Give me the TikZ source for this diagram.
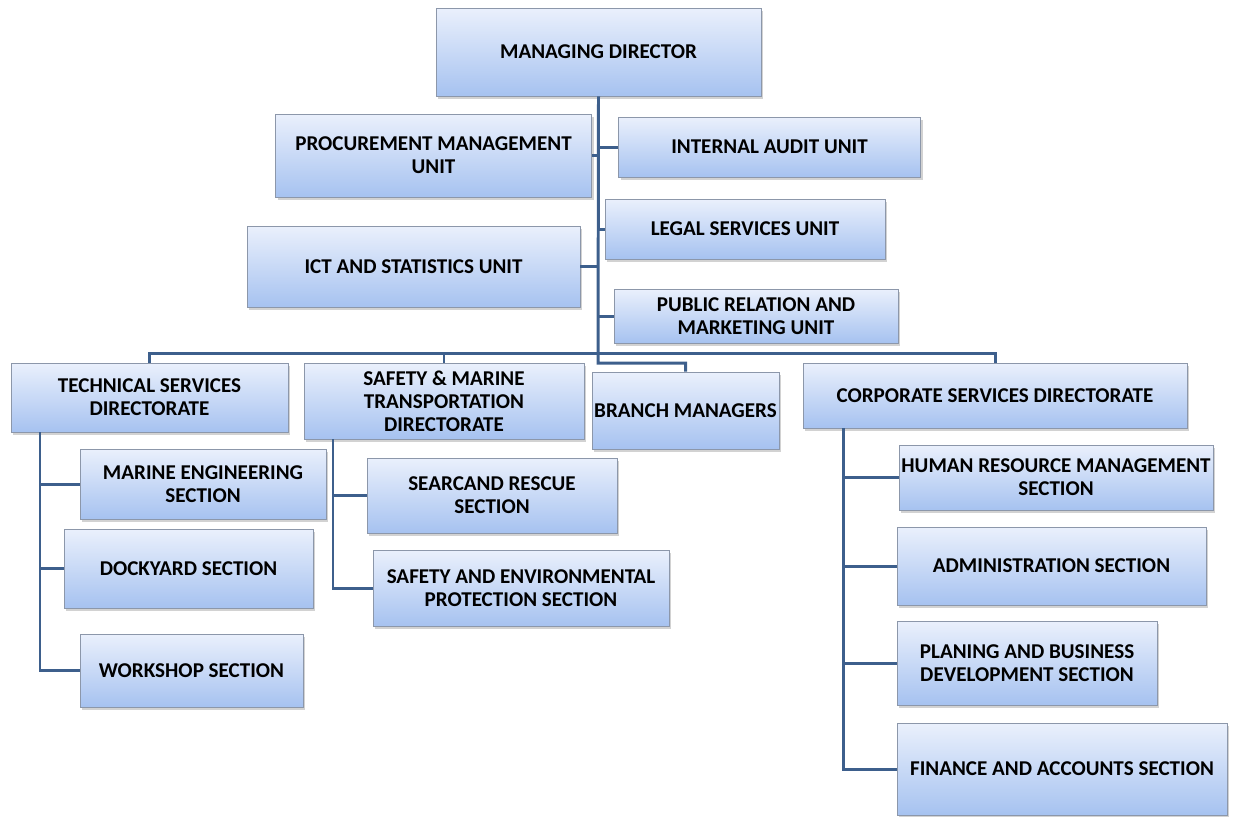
\documentclass[tikz,border=0pt]{standalone}
\usepackage{fontspec}
\setmainfont{Carlito}
\usetikzlibrary{shadows}
\definecolor{boxtop}{HTML}{EAF0FC}
\definecolor{boxbot}{HTML}{A6C2F0}
\definecolor{boxline}{HTML}{8C97AA}
\definecolor{linkblue}{HTML}{3D5F8C}
\tikzset{
    org/.style 2 args={rectangle, draw=boxline, line width=0.5pt, top color=boxtop, bottom color=boxbot,
        drop shadow={shadow xshift=1.2pt, shadow yshift=-1.5pt, fill=black!35},
        minimum width=#1*0.02cm, minimum height=#2*0.02cm, inner sep=1pt, align=center,
        font=\fontsize{12}{13.2}\selectfont\bfseries},
    link/.style={draw=linkblue, line width=1.7pt}
}
\begin{document}
\begin{tikzpicture}[x=0.02cm, y=-0.02cm]
    \useasboundingbox (0,0) rectangle (1237,816);

    % top level and units
    \node[org={325}{88}] (md) at (598.5,52) {MANAGING DIRECTOR};
    \node[org={316}{83}] (proc) at (433.5,155.5) {PROCUREMENT MANAGEMENT\\UNIT};
    \node[org={302}{60}] (audit) at (769.5,147) {INTERNAL AUDIT UNIT};
    \node[org={280}{60}] (legal) at (745,229) {LEGAL SERVICES UNIT};
    \node[org={333}{81}] (ict) at (413.5,266.5) {ICT AND STATISTICS UNIT};
    \node[org={284}{54}] (pr) at (756,316) {PUBLIC RELATION AND\\MARKETING UNIT};

    % directorates
    \node[org={277}{69}] (tech) at (149.5,397.5) {TECHNICAL SERVICES\\DIRECTORATE};
    \node[org={280}{76}] (smt) at (444,401) {SAFETY \& MARINE\\TRANSPORTATION\\DIRECTORATE};
    \node[org={187}{77}] (branch) at (685.5,410.5) {BRANCH MANAGERS};
    \node[org={384}{65}] (corp) at (995,395.5) {CORPORATE SERVICES DIRECTORATE};

    % sections
    \node[org={246}{70}] (meng) at (203,484) {MARINE ENGINEERING\\SECTION};
    \node[org={249}{79}] (dock) at (188.5,568.5) {DOCKYARD SECTION};
    \node[org={223}{73}] (work) at (191.5,670.5) {WORKSHOP SECTION};
    \node[org={250}{75}] (sar) at (492,495.5) {SEARCAND RESCUE\\SECTION};
    \node[org={296}{76}] (sep) at (521,588) {SAFETY AND ENVIRONMENTAL\\PROTECTION SECTION};
    \node[org={314}{65}] (hrm) at (1056,477.5) {HUMAN RESOURCE MANAGEMENT\\SECTION};
    \node[org={309}{78}] (admin) at (1051.5,566) {ADMINISTRATION SECTION};
    \node[org={260}{84}] (plan) at (1027,663) {PLANING AND BUSINESS\\DEVELOPMENT SECTION};
    \node[org={330}{92}] (fin) at (1062,769) {FINANCE AND ACCOUNTS SECTION};

    \coordinate (spine) at (598,363);
    \coordinate (bus) at (598,353);
    \coordinate (techbar) at (40,0);
    \coordinate (smtbar) at (333,0);
    \coordinate (corpbar) at (843,0);

    \begin{scope}
        \path[link] (md.south) -- (spine) -| (branch.north);
        \path[link] (proc.east) -- (proc.east -| spine);
        \path[link] (audit.west) -- (audit.west -| spine);
        \path[link] (legal.west) -- (legal.west -| spine);
        \path[link] (ict.east) -- (ict.east -| spine);
        \path[link] (pr.west) -- (pr.west -| spine);
        \path[link] (tech.north) |- (bus) -| (corp.north);
        \path[link] (smt.north) -- (smt.north |- bus);

        \path[link] (tech.south -| techbar) |- (work.west);
        \path[link] (meng.west) -- (meng.west -| techbar);
        \path[link] (dock.west) -- (dock.west -| techbar);
        \path[link] (smt.south -| smtbar) |- (sep.west);
        \path[link] (sar.west) -- (sar.west -| smtbar);
        \path[link] (corp.south -| corpbar) |- (fin.west);
        \path[link] (hrm.west) -- (hrm.west -| corpbar);
        \path[link] (admin.west) -- (admin.west -| corpbar);
        \path[link] (plan.west) -- (plan.west -| corpbar);
    \end{scope}
\end{tikzpicture}
\end{document}
